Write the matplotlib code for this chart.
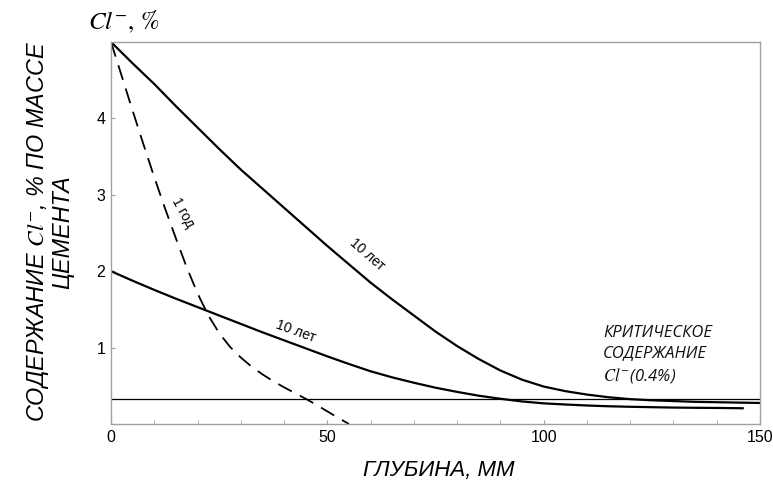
import matplotlib
matplotlib.use("Agg")
import matplotlib.pyplot as plt
from matplotlib.ticker import MultipleLocator

plt.rcParams['mathtext.fontset'] = 'stix'

# Data (depth, mm ; Cl- content, % by mass of cement)
depth_10y_high = [0, 5, 10, 15, 20, 25, 30, 35, 40, 45, 50, 55, 60, 65, 70, 75, 80, 85, 90,
                  95, 100, 105, 110, 115, 120, 125, 130, 135, 140, 145, 150]
cl_10y_high = [5.0, 4.72, 4.45, 4.16, 3.88, 3.60, 3.33, 3.08, 2.83, 2.58, 2.33, 2.09, 1.85,
               1.63, 1.42, 1.21, 1.02, 0.85, 0.70, 0.58, 0.49, 0.43, 0.385, 0.35, 0.325,
               0.31, 0.30, 0.29, 0.285, 0.28, 0.275]

depth_10y_low = [0, 5, 10, 15, 20, 25, 30, 35, 40, 45, 50, 55, 60, 65, 70, 75, 80, 85, 90,
                 95, 100, 105, 110, 115, 120, 125, 130, 135, 140, 146]
cl_10y_low = [2.0, 1.875, 1.755, 1.64, 1.53, 1.42, 1.31, 1.20, 1.095, 0.99, 0.885, 0.785,
              0.69, 0.61, 0.54, 0.475, 0.42, 0.37, 0.33, 0.295, 0.27, 0.255, 0.242, 0.232,
              0.225, 0.22, 0.215, 0.212, 0.21, 0.206]

depth_1y = [0, 2.5, 5, 7.5, 10, 12.5, 15, 17.5, 20, 22.5, 25, 27.5, 30, 32.5, 35, 37.5,
            40, 42.5, 45, 47.5, 50, 52.5, 55]
cl_1y = [5.0, 4.55, 4.1, 3.66, 3.23, 2.82, 2.43, 2.05, 1.71, 1.42, 1.19, 1.01, 0.87, 0.75,
         0.65, 0.56, 0.48, 0.405, 0.33, 0.25, 0.165, 0.08, 0.0]

critical_level = 0.33
x_ticks = [0, 50, 100, 150]
y_ticks = [1, 2, 3, 4]

fig = plt.figure(figsize=(7.73, 4.86), dpi=100)
ax = fig.add_axes([0.1436, 0.1276, 0.9832 - 0.1436, 0.9136 - 0.1276])

ax.plot(depth_10y_high, cl_10y_high, color='black', lw=1.6, solid_joinstyle='round')
ax.plot(depth_10y_low, cl_10y_low, color='black', lw=1.6, solid_joinstyle='round')
ax.plot(depth_1y, cl_1y, color='black', lw=1.3, dashes=(8.5, 5))
ax.axhline(critical_level, color='black', lw=0.9)

ax.set_xlim(0, 150)
ax.set_ylim(0, 5)
ax.set_xticks(x_ticks)
ax.set_yticks(y_ticks)
ax.xaxis.set_minor_locator(MultipleLocator(10))
for s in ax.spines.values():
    s.set_color('#a0a0a0')
    s.set_linewidth(1.0)
ax.tick_params(axis='both', which='both', direction='in', color='#a0a0a0',
               labelsize=11.5, pad=4)
ax.tick_params(axis='both', which='major', length=3)
ax.tick_params(axis='both', which='minor', length=3)
for lab in ax.get_xticklabels() + ax.get_yticklabels():
    lab.set_fontfamily('Liberation Sans')

# curve labels
ax.text(59.2, 2.22, '10 лет', rotation=-41, fontsize=10, family='Liberation Sans',
        ha='center', va='center')
ax.text(42.8, 1.22, '10 лет', rotation=-20, fontsize=10, family='Liberation Sans',
        ha='center', va='center')
ax.text(16.5, 2.77, '1 год', rotation=-61, fontsize=10, family='Liberation Sans',
        ha='center', va='center')

ax.text(113.7, 0.90, 'КРИТИЧЕСКОЕ\nСОДЕРЖАНИЕ\n$Cl^{-}$(0.4%)', fontsize=12,
        family='Open Sans', style='italic', ha='left', va='center', linespacing=1.32,
        color='#111111')

# axis titles
fig.text(0.114, 0.955, r'$Cl^{-},\,\%$', fontsize=18, ha='left', va='center')
fig.text(0.064, 0.523, 'СОДЕРЖАНИЕ $Cl^{-}$, % ПО МАССЕ\nЦЕМЕНТА', rotation=90,
         fontsize=16.8, family='Liberation Sans', style='italic', ha='center', va='center',
         linespacing=1.05)
fig.text(0.568, 0.032, 'ГЛУБИНА, ММ', fontsize=16, family='Liberation Sans',
         style='italic', ha='center', va='center')

fig.savefig('out.png', dpi=100)
